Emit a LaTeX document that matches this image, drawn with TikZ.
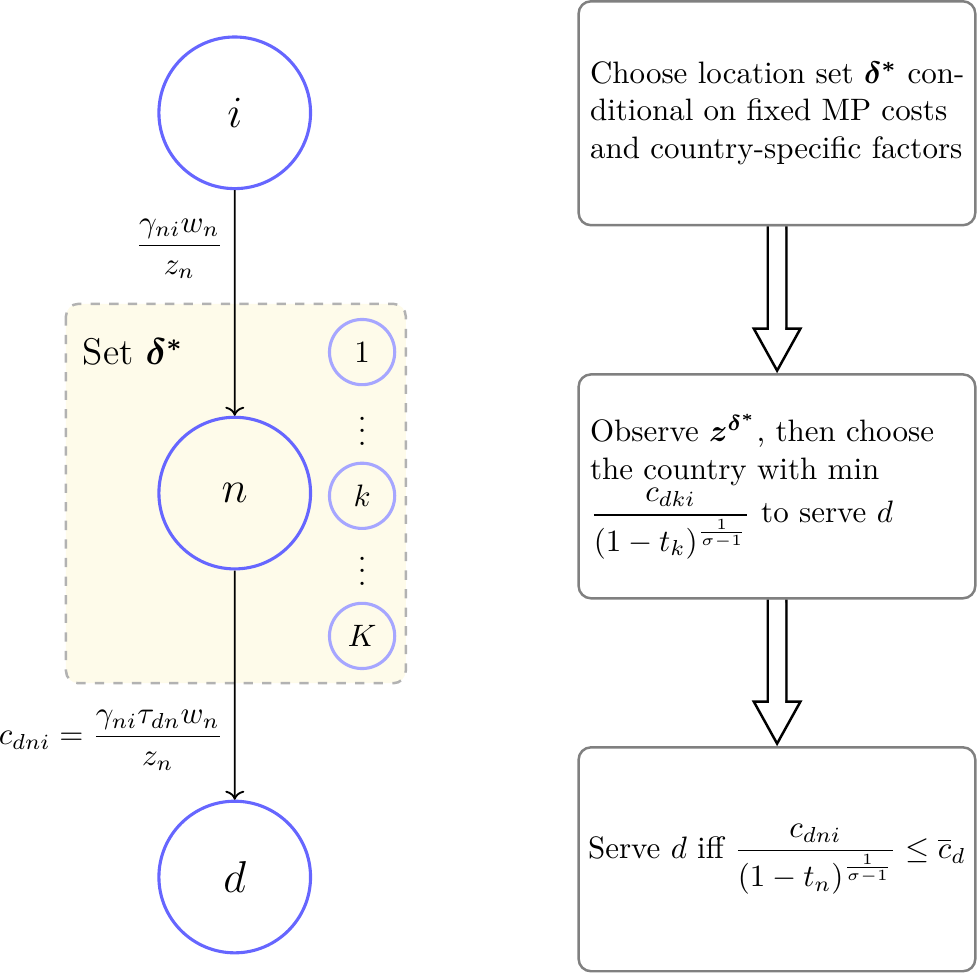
\documentclass[tikz,border=0pt]{standalone}
\usepackage{amsmath}
\usepackage{amssymb}
\usepackage{tikz}
\usepackage{xcolor}
\usetikzlibrary{arrows.meta}
\definecolor{setfill}{HTML}{FEFBEA}
\newcommand{\dotcol}{\vbox{\baselineskip4pt\lineskiplimit0pt\hbox{.}\hbox{.}\hbox{.}}}
\tikzset{
    big-node/.style = {draw=blue!60, circle, line width=1pt, minimum size=1.72cm, font=\Large},
    small-node/.style = {draw=blue!35, circle, line width=1pt, minimum size=0.74cm},
    dots-node/.style = {inner sep=0pt},
    set-box/.style = {draw=gray!60, fill=setfill, thick, dashed, rounded corners=4pt},
    step-box/.style = {draw=gray, thick, rectangle, rounded corners=4pt, minimum width=4.5cm, minimum height=2.54cm, text width=4.24cm, inner xsep=0.13cm},
    flow-arrow/.style = {double, double distance=5.2pt, thick, -{Triangle[open, length=0.52cm, width=0.57cm]}},
    flow-gap/.style = {draw=white, line width=5.2pt, shorten >=0.4cm, shorten <=1pt},
}

\begin{document}
\begin{tikzpicture}[scale=1.032]
\useasboundingbox (0,0) rectangle (10.74,-10.75);
% the set of locations
\draw[set-box] (0.725,-3.34) rectangle (4.46,-7.51);
\node[anchor=west] (set-label) at (0.79,-3.87) {\large Set $\boldsymbol{\delta^*}$};

\node[big-node] (i) at (2.58,-1.24) {$i$};
\node[big-node] (n) at (2.58,-5.42) {$n$};
\node[big-node] (d) at (2.58,-9.64) {$d$};

\node[small-node] (one) at (3.98,-3.87) {1};
\node[dots-node] (dots-a) at (3.98,-4.74) {\dotcol};
\node[small-node] (k) at (3.98,-5.45) {$k$};
\node[dots-node] (dots-b) at (3.98,-6.28) {\dotcol};
\node[small-node] (K) at (3.98,-6.99) {$K$};

\draw[->, semithick] (i) -- node[left, pos=0.26] (cost-in) {$\dfrac{\gamma_{ni} w_n}{z_n}$} (n);
\draw[->, semithick] (n) -- node[left, pos=0.74] (cost-out) {$c_{dni} = \dfrac{\gamma_{ni}\tau_{dn} w_n}{z_n}$} (d);

% the three steps
\node[step-box] (choose) at (8.54,-1.245) {Choose location set $\boldsymbol{\delta^*}$ con-\\ditional on fixed MP costs\\and country-specific factors};
\node[step-box] (observe) at (8.54,-5.346) {Observe $\boldsymbol{z^{\delta^*}}$, then choose\\the country with min\\$\dfrac{c_{dki}}{(1-t_k)^{\frac{1}{\sigma-1}}}$ to serve $d$};
\node[step-box, align=center, text width=4.4cm, inner xsep=0.05cm] (serve) at (8.54,-9.445) {\mbox{Serve $d$ iff $\dfrac{c_{dni}}{(1-t_n)^{\frac{1}{\sigma-1}}}\le\overline{c}_d$}};

\draw[flow-arrow] (choose) -- (observe);
\draw[flow-gap] (choose) -- (observe);
\draw[flow-arrow] (observe) -- (serve);
\draw[flow-gap] (observe) -- (serve);
\end{tikzpicture}
\end{document}
